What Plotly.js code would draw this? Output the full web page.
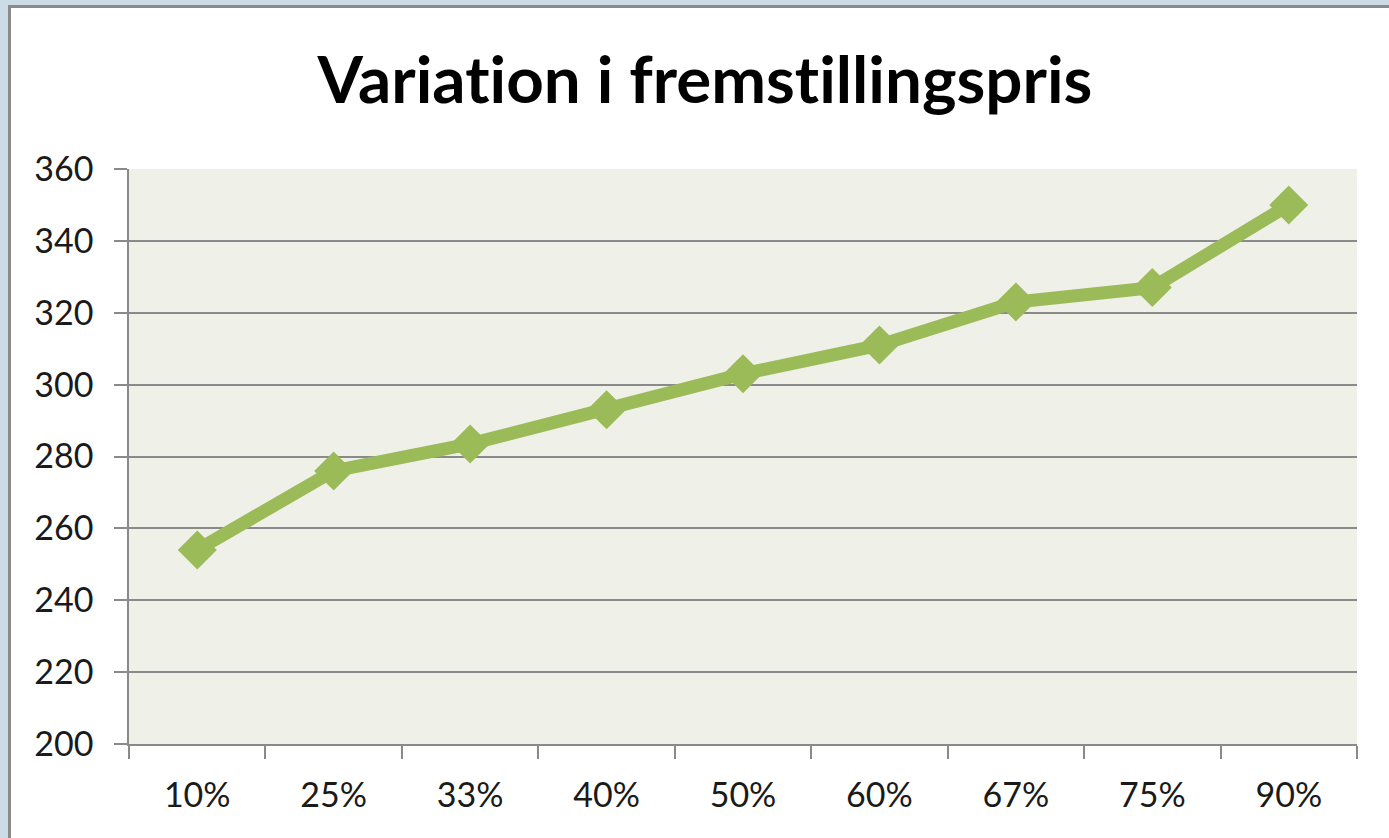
<!DOCTYPE html>
<html>
<head>
<meta charset="utf-8">
<script src="https://cdn.plot.ly/plotly-3.0.1.min.js"></script>
<style>
  html, body { margin: 0; padding: 0; background: #CBDCE6; overflow: hidden; width: 1389px; height: 838px; }
  #frame { position: absolute; left: 8px; top: 5px; border-left: 3px solid #8a8a8a; border-top: 3px solid #8a8a8a; background: #ffffff; width: 1378px; height: 830px; }
  #chart { width: 1378px; height: 830px; }
  #chart text { font-variant-ligatures: none; font-feature-settings: "liga" 0; }
</style>
</head>
<body>
<div id="frame"><div id="chart"></div></div>
<script>
const categories = ["10%", "25%", "33%", "40%", "50%", "60%", "67%", "75%", "90%"];
const prices = [254, 276, 283.5, 293, 303, 311, 323, 327, 350];
const yTicks = [200, 220, 240, 260, 280, 300, 320, 340, 360];
const chartTitle = "Variation i fremstillingspris";

const trace = {
  type: "scatter",
  mode: "lines+markers",
  x: categories,
  y: prices,
  line: { color: "#9BBB59", width: 13 },
  marker: { symbol: "diamond", size: 30, color: "#9BBB59" },
  hoverinfo: "x+y"
};

const layout = {
  width: 1378,
  height: 830,
  margin: { l: 118, r: 32, t: 161, b: 94 },
  paper_bgcolor: "#ffffff",
  plot_bgcolor: "#EFF1E9",
  showlegend: false,
  font: { family: "Lato, 'Open Sans', sans-serif", color: "#1a1a1a", size: 34 },
  title: {
    text: "<b>" + chartTitle + "</b>",
    font: { family: "Lato, 'Open Sans', sans-serif", size: 65.5, color: "#000000" },
    xref: "container", yref: "container",
    x: 0.5036, xanchor: "center",
    y: 0.913, yanchor: "middle"
  },
  xaxis: {
    type: "category",
    range: [-0.5, categories.length - 0.5],
    tickson: "boundaries",
    ticks: "outside",
    ticklen: 13,
    tickwidth: 1.5,
    tickcolor: "#8a8a8a",
    showline: true,
    linecolor: "#8a8a8a",
    linewidth: 1.5,
    showgrid: false,
    zeroline: false,
    tickfont: { size: 34, color: "#1a1a1a" },
    ticklabelstandoff: 20,
    fixedrange: true
  },
  yaxis: {
    range: [200, 360],
    tickvals: yTicks,
    ticktext: yTicks.map(String),
    ticks: "outside",
    ticklen: 13,
    tickwidth: 1.5,
    tickcolor: "#8a8a8a",
    showline: true,
    linecolor: "#8a8a8a",
    linewidth: 1.5,
    showgrid: true,
    gridcolor: "#8a8a8a",
    gridwidth: 1.5,
    zeroline: false,
    tickfont: { size: 34, color: "#1a1a1a" },
    ticklabelstandoff: 14,
    fixedrange: true
  }
};

Plotly.newPlot("chart", [trace], layout, { displayModeBar: false });
</script>
</body>
</html>
